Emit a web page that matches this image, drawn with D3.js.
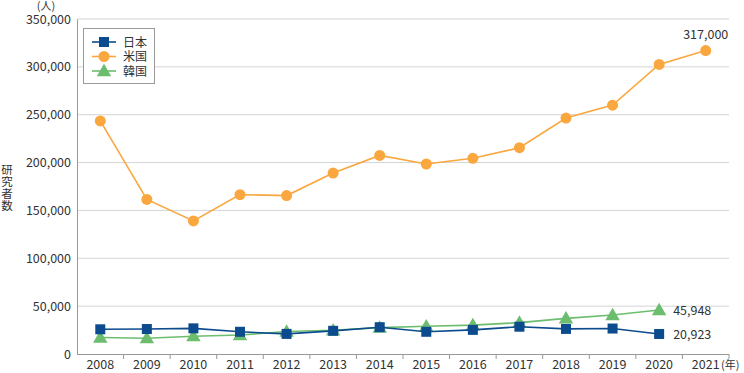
<!DOCTYPE html>
<html><head><meta charset="utf-8">
<script src="https://cdn.jsdelivr.net/npm/d3@7"></script>
<style>body{margin:0;background:#fff}svg text{font-family:"Noto Sans CJK JP","Noto Sans",sans-serif;fill:#333}</style>
</head><body><svg id="c" width="744" height="373"></svg>
<script>
const years = ["2008","2009","2010","2011","2012","2013","2014","2015","2016","2017","2018","2019","2020","2021"];
const japan = [25800,26100,26800,23200,21000,24200,28000,23200,25200,28500,26200,26600,20923,null];
const usa = [243500,161500,139000,166500,165500,189000,207500,198500,204500,215500,246500,260000,302500,317000];
const korea = [17200,16500,18600,19800,23500,24800,27600,29000,30200,32800,37200,40700,45948,null];
const yTicks = [0,50000,100000,150000,200000,250000,300000,350000];
const seriesNames = ["日本","米国","韓国"];
const colors = ["#0c4b8e","#f9a73e","#6cbd6e"];

const svg = d3.select("#c");
const L=77,R=729,T=19,B=354;
const x = d3.scaleBand().domain(years).range([L,R]);
const y = d3.scaleLinear().domain([0,350000]).range([B,T]);
const fmt = d3.format(",");

// grid
svg.append("g").selectAll("line").data(yTicks.slice(1)).join("line")
  .attr("x1",L).attr("x2",R).attr("y1",d=>y(d)).attr("y2",d=>y(d))
  .attr("stroke","#d4d4d4").attr("stroke-width",1);
// y axis
const ya = svg.append("g").attr("transform",`translate(${L},0)`)
  .call(d3.axisLeft(y).tickValues(yTicks).tickFormat(fmt).tickSize(0).tickPadding(6));
ya.select(".domain").attr("stroke","#999");
ya.selectAll("text").attr("font-size",12.5).style("fill","#333");
// x axis
const xa = svg.append("g").attr("transform",`translate(0,${B})`)
  .call(d3.axisBottom(x).tickSize(0).tickPadding(6));
xa.select(".domain").remove();
xa.selectAll("text").attr("font-size",12.5).style("fill","#333");
svg.append("line").attr("x1",L).attr("x2",R).attr("y1",B+0.5).attr("y2",B+0.5).attr("stroke","#999");
svg.append("g").selectAll("line").data(years.slice(1).concat(["end"])).join("line")
  .attr("x1",(d,i)=>L+(i+1)*x.bandwidth()).attr("x2",(d,i)=>L+(i+1)*x.bandwidth())
  .attr("y1",B).attr("y2",B+5).attr("stroke","#999");

const cx = d=>x(d)+x.bandwidth()/2;
const data = [japan,usa,korea];
const line = d3.line().defined(d=>d.v!=null).x(d=>cx(d.yr)).y(d=>y(d.v));
const draw = (idx)=>{
  const pts = years.map((yr,i)=>({yr,v:data[idx][i]}));
  svg.append("path").datum(pts).attr("d",line).attr("fill","none").attr("stroke",colors[idx]).attr("stroke-width",1.6);
  const g = svg.append("g");
  pts.filter(d=>d.v!=null).forEach(d=>marker(g,idx,cx(d.yr),y(d.v)));
};
function marker(g,idx,px,py){
  if(idx===0) g.append("rect").attr("x",px-5).attr("y",py-5).attr("width",10).attr("height",10).attr("fill",colors[0]);
  else if(idx===1) g.append("circle").attr("cx",px).attr("cy",py).attr("r",5.5).attr("fill",colors[1]);
  else g.append("path").attr("d",d3.symbol(d3.symbolTriangle,90)()).attr("transform",`translate(${px},${py+1})`).attr("fill",colors[2]);
}
draw(1); draw(2); draw(0);

// end labels
svg.append("text").attr("x",cx("2021")).attr("y",y(317000)-12).attr("text-anchor","middle").attr("font-size",12.5).text(fmt(317000));
svg.append("text").attr("x",cx("2020")+14).attr("y",y(45948)+5).attr("font-size",12.5).text(fmt(45948));
svg.append("text").attr("x",cx("2020")+14).attr("y",y(20923)+5).attr("font-size",12.5).text(fmt(20923));

// units
svg.append("text").attr("x",46).attr("y",10).attr("text-anchor","middle").attr("font-size",11).text("(人)");
svg.append("text").attr("x",721).attr("y",B+15).attr("font-size",11).text("(年)");
svg.append("text").attr("x",7).attr("y",164).attr("font-size",11.5)
  .style("writing-mode","vertical-rl").style("letter-spacing","0.5px").text("研究者数");

// legend
const lg = svg.append("g");
lg.append("rect").attr("x",83.5).attr("y",28.5).attr("width",71).attr("height",55).attr("fill","#fff").attr("stroke","#999");
const lt = lg.append("text").attr("font-size",12);
seriesNames.forEach((n,i)=>{
  const ly = 42+i*14.5;
  lg.append("line").attr("x1",92).attr("x2",116).attr("y1",ly).attr("y2",ly).attr("stroke",colors[i]).attr("stroke-width",1.6);
  marker(lg,i,104,ly);
  lt.append("tspan").attr("x",123).attr("y",ly+4.5).text(n);
});
lg.node().appendChild(lt.node());
</script></body></html>
